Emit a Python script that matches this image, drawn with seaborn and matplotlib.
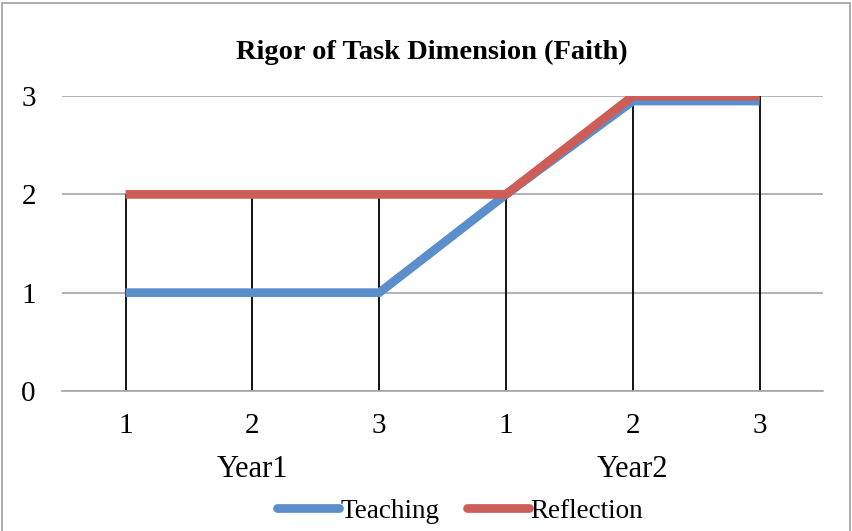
import seaborn as sns
import pandas as pd
import matplotlib.pyplot as plt
from matplotlib.patches import Rectangle

sns.set_style("white")
plt.rcParams['font.family'] = ['Liberation Serif', 'DejaVu Serif']
plt.rcParams['text.color'] = 'black'
plt.rcParams['xtick.color'] = 'black'
plt.rcParams['ytick.color'] = 'black'

# chart data
quarters = ['1', '2', '3', '1', '2', '3']
years = ['Year1', 'Year2']
teaching = [1, 1, 1, 2, 2.95, 2.95]
reflection = [2, 2, 2, 2, 3, 3]

pos = list(range(len(quarters)))
df = pd.DataFrame({'pos': pos * 2,
                   'value': teaching + reflection,
                   'series': ['Teaching'] * 6 + ['Reflection'] * 6})

fig = plt.figure(figsize=(8.52, 5.31), dpi=100)
ax = fig.add_axes([0.073, 0.2637, 0.893, 0.5553])

# drop lines from the highest point down to the axis
tops = [max(t, r) for t, r in zip(teaching, reflection)]
ax.vlines(pos, 0, tops, color='black', lw=1.3, zorder=1)

sns.lineplot(data=df, x='pos', y='value', hue='series',
             palette={'Teaching': '#5B8FCB', 'Reflection': '#CD5E57'},
             lw=6.3, ax=ax, zorder=3, legend=False)
for ln in ax.lines:
    ln.set_solid_capstyle('butt')

ax.set_xlim(-0.5, 5.5)
ax.set_ylim(0, 3)
ax.set_yticks([0, 1, 2, 3])
ax.yaxis.grid(True, color='#A6A6A6', lw=1.2)
ax.set_axisbelow(True)
ax.set_xticks(pos)
ax.set_xticklabels(quarters)
ax.tick_params(axis='both', labelsize=21, length=0, pad=16)
ax.tick_params(axis='y', pad=19)
ax.set_xlabel('')
ax.set_ylabel('')
for s in ['left', 'right', 'top']:
    ax.spines[s].set_visible(False)
ax.spines['bottom'].set_color('#A6A6A6')
ax.spines['bottom'].set_linewidth(1.2)

# year group labels
for i, yr in enumerate(years):
    ax.text(1 + 3 * i, -0.8, yr, ha='center', va='center', fontsize=22,
            transform=ax.transData)

fig.text(0.507, 0.902, 'Rigor of Task Dimension (Faith)', ha='center', va='center',
         fontsize=20.5, fontweight='bold')

handles = [plt.Line2D([], [], color='#5B8FCB', lw=6.3, solid_capstyle='round'),
           plt.Line2D([], [], color='#CD5E57', lw=6.3, solid_capstyle='round')]
fig.legend(handles, ['Teaching', 'Reflection'], loc='center', ncol=2,
           bbox_to_anchor=(0.54, 0.037), frameon=False, fontsize=19.5,
           handlelength=2.3, handletextpad=0.05, columnspacing=1.0)

fig.patches.append(Rectangle((0.002, -0.01), 0.996, 1.005, transform=fig.transFigure,
                             fill=False, ec='#A0A0A0', lw=1.2))

fig.savefig('out.png', dpi=100)
